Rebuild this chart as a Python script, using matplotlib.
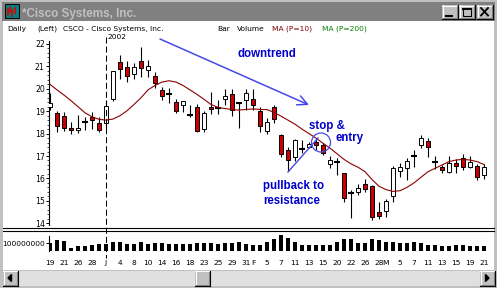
import numpy as np
import matplotlib
matplotlib.use("Agg")
import matplotlib.pyplot as plt
from matplotlib.patches import Rectangle, Circle, Polygon
from matplotlib import transforms

W, H, DPI = 497, 288, 100

# daily bars Dec 19 2001 .. Mar 21 2002
opens = [19.20, 18.90, 18.77, 18.25, 18.16, 18.50, 18.73, 18.46, 18.46, 19.56,
         21.20, 20.99, 20.65, 21.26, 20.84, 20.57, 19.95, 19.75, 19.40, 19.26,
         18.85, 19.20, 18.19, 19.20, 19.13, 19.53, 19.77, 19.35, 19.50, 19.53,
         19.02, 18.13, 19.20, 17.94, 17.27, 16.94, 17.33, 17.42, 17.61, 17.48,
         16.63, 16.73, 16.24, 15.33, 15.38, 15.75, 15.67, 14.51, 14.54, 15.20,
         16.35, 16.45, 17.00, 17.48, 17.67, 16.75, 16.49, 16.30, 16.67, 16.90,
         16.52, 16.55, 16.15]
highs = [19.80, 19.00, 18.98, 18.53, 18.83, 18.76, 18.98, 18.76, 19.50, 20.80,
         21.52, 21.26, 21.14, 21.88, 21.29, 20.74, 20.10, 20.02, 19.53, 19.47,
         19.28, 19.30, 19.00, 19.86, 19.50, 19.98, 19.98, 19.40, 19.97, 19.98,
         19.20, 18.68, 19.28, 17.98, 17.42, 17.74, 17.71, 17.64, 17.76, 17.57,
         17.00, 16.90, 16.26, 15.48, 15.75, 15.96, 15.70, 14.96, 15.10, 16.55,
         16.70, 16.90, 17.27, 17.94, 17.79, 17.00, 16.60, 17.00, 16.87, 17.07,
         17.00, 16.64, 16.64]
lows = [19.05, 18.06, 18.13, 17.97, 18.04, 18.16, 18.19, 18.09, 18.24, 19.47,
        20.42, 20.29, 20.45, 20.51, 20.51, 20.02, 19.50, 19.35, 18.90, 18.96,
        18.76, 18.06, 18.09, 18.87, 18.87, 19.28, 18.79, 18.24, 19.05, 19.05,
        18.09, 17.98, 18.46, 16.97, 16.33, 16.79, 17.12, 17.34, 17.27, 17.04,
        16.45, 16.16, 14.95, 14.23, 15.26, 15.41, 14.14, 14.19, 14.27, 14.96,
        16.08, 15.93, 16.49, 17.34, 16.97, 16.40, 16.26, 16.26, 16.26, 16.38,
        16.45, 15.93, 15.96]
closes = [19.38, 18.34, 18.24, 18.15, 18.25, 18.50, 18.60, 18.15, 19.23, 20.79,
          20.87, 20.57, 20.96, 20.91, 21.00, 20.24, 19.68, 19.75, 19.00, 19.47,
          18.85, 18.12, 18.90, 19.08, 19.13, 19.69, 19.05, 19.35, 19.80, 19.26,
          18.34, 18.53, 18.65, 17.07, 16.82, 17.71, 17.33, 17.52, 17.48, 17.12,
          16.82, 16.73, 15.12, 15.33, 15.56, 15.51, 14.26, 14.32, 14.99, 16.46,
          16.52, 16.78, 17.00, 17.79, 17.42, 16.75, 16.38, 16.70, 16.55, 16.52,
          16.72, 16.05, 16.49]
ma10 = [20.20, 19.95, 19.72, 19.47, 19.20, 18.93, 18.75, 18.64, 18.60, 18.65,
        18.80, 19.02, 19.30, 19.60, 19.95, 20.15, 20.30, 20.36, 20.30, 20.15,
        19.95, 19.75, 19.53, 19.30, 19.17, 19.12, 19.07, 19.05, 19.08, 19.10,
        19.08, 19.07, 18.95, 18.78, 18.60, 18.42, 18.20, 18.00, 17.80, 17.57,
        17.35, 17.10, 16.85, 16.65, 16.50, 16.30, 15.95, 15.65, 15.50, 15.42,
        15.45, 15.60, 15.80, 16.05, 16.30, 16.45, 16.60, 16.75, 16.82, 16.85,
        16.82, 16.75, 16.62]
volume_m = [100, 146, 127, 37, 59, 59, 78, 86, 86, 123,
            114, 86, 86, 123, 92, 100, 100, 86, 86, 86,
            86, 100, 100, 100, 86, 100, 100, 123, 86, 82,
            82, 114, 155, 219, 168, 110, 82, 82, 82, 82,
            82, 110, 151, 164, 96, 96, 164, 141, 114, 123,
            96, 100, 110, 100, 82, 82, 68, 68, 82, 73,
            68, 68, 68]

tick_pos = [0, 2, 4, 6, 8, 10, 12, 14, 16, 18, 20, 22, 24, 26, 28, 29,
            31, 33, 35, 37, 39, 41, 43, 45, 47, 48, 50, 52, 54, 56, 58, 60, 62]
tick_txt = ["19", "21", "26", "28", "J", "4", "8", "10", "14", "16", "18",
            "23", "25", "29", "31", "F", "5", "7", "11", "13", "15", "20",
            "22", "26", "28", "M", "5", "7", "11", "13", "15", "19", "21"]
month_pos = [29, 48]
year_pos = 8

fig = plt.figure(figsize=(W / DPI, H / DPI), dpi=DPI, facecolor="#c0c0c0")


def box(l, t, r, b):
    return [l / W, 1 - b / H, (r - l) / W, (b - t) / H]


def bevel(a, x, y, w, h):
    a.add_patch(Rectangle((x, y), w, h, facecolor="#c0c0c0", edgecolor="none"))
    a.plot([x, x + w], [y + 0.5, y + 0.5], color="white", lw=0.8)
    a.plot([x + 0.5, x + 0.5], [y, y + h], color="white", lw=0.8)
    a.plot([x, x + w], [y + h - 0.5, y + h - 0.5], color="black", lw=0.8)
    a.plot([x + w - 0.5, x + w - 0.5], [y, y + h], color="black", lw=0.8)
    a.plot([x + 1, x + w - 1], [y + h - 1.5, y + h - 1.5], color="#808080", lw=0.8)
    a.plot([x + w - 1.5, x + w - 1.5], [y + 1, y + h - 1], color="#808080", lw=0.8)


# window chrome
bg = fig.add_axes([0, 0, 1, 1])
bg.set_xlim(0, W)
bg.set_ylim(H, 0)
bg.axis("off")
bg.add_patch(Rectangle((2, 2), 493, 18.5, facecolor="#808080", edgecolor="none"))
bg.add_patch(Rectangle((3, 21), 491, 249, facecolor="white", edgecolor="none"))
bg.add_patch(Rectangle((5, 4), 14, 14, facecolor="#008080", edgecolor="black", lw=0.7))
for xx, y0, y1 in [(8, 9, 15), (10, 7, 12), (12, 10, 16), (15, 8, 13)]:
    bg.plot([xx, xx], [y0, y1], color="#e00000", lw=1.2)
bg.text(22, 16.5, "*Cisco Systems, Inc.", color="#c0c0c0", fontsize=8.4,
        fontweight="bold", family="Liberation Sans")
for bx in (442, 459, 477):
    bevel(bg, bx, 5, 16, 14)
bg.plot([446, 452], [15.5, 15.5], color="black", lw=1.5)
bg.add_patch(Rectangle((463, 8), 8, 8, facecolor="none", edgecolor="black", lw=0.8))
bg.plot([463, 471], [8.5, 8.5], color="black", lw=1.4)
bg.plot([481, 488], [8, 15.5], color="black", lw=1.3)
bg.plot([481, 488], [15.5, 8], color="black", lw=1.3)
bg.plot([3, 494], [228, 228], color="black", lw=0.8)
bg.plot([3, 494], [230.5, 230.5], color="black", lw=0.8)
# scroll bar
bg.add_patch(Rectangle((17, 270.5), 463, 15.5, facecolor="#e0e0e0", edgecolor="none"))
bevel(bg, 3, 270.5, 15, 15.5)
bevel(bg, 480, 270.5, 15, 15.5)
bevel(bg, 195, 270.5, 15, 15.5)
bg.add_patch(Polygon([[8, 278], [11.5, 274.5], [11.5, 281.5]], closed=True, color="black"))
bg.add_patch(Polygon([[489, 278], [485.5, 274.5], [485.5, 281.5]], closed=True, color="black"))

hdr = dict(fontsize=5.4, family="DejaVu Sans")
bg.text(7, 30.7, "Daily", **hdr)
bg.text(37, 30.7, "(Left)", **hdr)
bg.text(63, 30.7, "CSCO - Cisco Systems, Inc.", **hdr)
bg.text(217, 30.7, "Bar", **hdr)
bg.text(237, 30.7, "Volume", **hdr)
bg.text(272.5, 30.7, "MA (P=10)", color="#800000", **hdr)
bg.text(322.5, 30.7, "MA (P=200)", color="#008000", **hdr)

# price panel
x_lo, x_hi = -1 / 7, 442 / 7
ax = fig.add_axes(box(49, 37, 492, 226))
ax.set_facecolor("none")
ax.set_xlim(x_lo, x_hi)
ax.set_ylim(22 - 182 / 22.4, 22 + 7 / 22.4)
idx = list(range(len(opens)))
for i in idx:
    o, hi, lo, c = opens[i], highs[i], lows[i], closes[i]
    ax.vlines(i, lo, hi, color="black", lw=0.8, zorder=2)
    if o == c:
        ax.hlines(o, i - 0.38, i + 0.38, color="black", lw=1.5, zorder=3)
    else:
        face = "#cc0000" if c < o else "white"
        ax.add_patch(Rectangle((i - 0.33, min(o, c)), 0.66, abs(c - o),
                               facecolor=face, edgecolor="black", lw=0.7, zorder=3))
ax.plot(idx, ma10, color="#8b0000", lw=0.8, zorder=4)
ax.set_yticks(range(14, 23))
ax.set_yticks(np.arange(14, 22.2, 0.2), minor=True)
ax.set_xticks([])
ax.tick_params(axis="y", which="major", length=2.5, width=0.7, pad=0.6,
               labelsize=5.6, direction="out")
ax.tick_params(axis="y", which="minor", length=1.1, width=0.5)
for s in ("top", "right", "bottom"):
    ax.spines[s].set_visible(False)
ax.spines["left"].set_linewidth(0.8)
ax.spines["left"].set_bounds(13.92, 22.15)

# volume panel
axv = fig.add_axes(box(49, 231, 492, 250.5))
axv.set_facecolor("none")
axv.bar(idx, volume_m, width=0.68, color="black")
axv.set_xlim(x_lo, x_hi)
axv.set_ylim(0, 267)
axv.set_yticks([100])
axv.set_yticklabels(["100000000"])
axv.set_xticks(tick_pos)
axv.set_xticklabels(tick_txt)
axv.set_xticks(month_pos, minor=True)
axv.tick_params(axis="y", length=2.5, width=0.7, pad=0.6, labelsize=5.4)
axv.tick_params(axis="x", which="major", length=0, pad=7, labelsize=5.4)
axv.tick_params(axis="x", which="minor", length=3, width=0.8)
for s in ("top", "right", "bottom"):
    axv.spines[s].set_visible(False)
axv.spines["left"].set_linewidth(0.8)
axv.spines["left"].set_bounds(0, 205)

# annotations
fg = fig.add_axes([0, 0, 1, 1])
fg.set_xlim(0, W)
fg.set_ylim(H, 0)
fg.axis("off")
tr = transforms.blended_transform_factory(ax.transData, fg.transData)
fg.plot([year_pos, year_pos], [37, 258], transform=tr, color="black", lw=0.75,
        ls=(0, (5.8, 2.9)))
fg.text(year_pos + 0.15, 39.3, "2002", transform=tr, **hdr)

blue = "#0000cc"
lblue = "#4848e8"
ann = dict(color=blue, fontsize=8.3, fontweight="bold", family="Liberation Sans")
fg.text(237, 56.6, "downtrend", **ann)
fg.text(309, 129.4, "stop &", **ann)
fg.text(335, 141, "entry", **ann)
fg.text(263, 189, "pullback to", **ann)
fg.text(263, 204, "resistance", **ann)
fg.annotate("", xy=(309, 105), xytext=(160, 39),
            arrowprops=dict(arrowstyle="->,head_length=0.7,head_width=0.35",
                            color=lblue, lw=1.1, shrinkA=0, shrinkB=0))
fg.add_patch(Circle((321, 142.5), 9.5, facecolor="none", edgecolor=lblue, lw=0.9))
fg.plot([288, 318], [172, 138], color=lblue, lw=1.0)

fig.savefig("out.png", dpi=DPI, facecolor=fig.get_facecolor())
